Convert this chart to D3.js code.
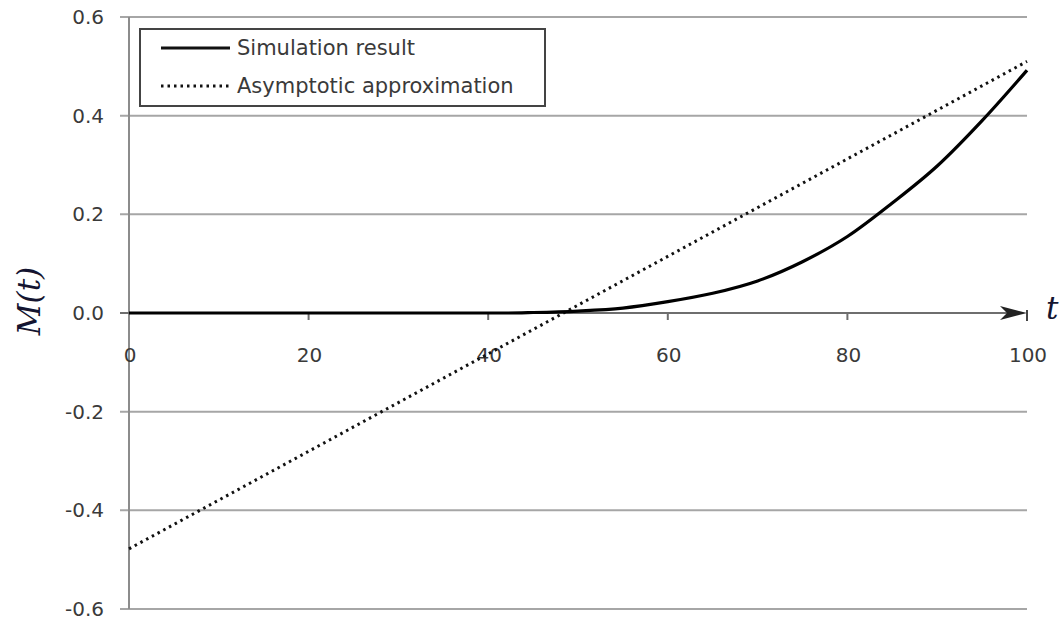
<!DOCTYPE html>
<html lang="en">
<head>
    <meta charset="utf-8">
    <title>M(t)</title>
    <script src="https://d3js.org/d3.v7.min.js"></script>
    <style>
        body { margin: 0; background: #fff; }
        .ticklbl { font-family: "DejaVu Sans", Verdana, sans-serif; font-size: 20px; fill: #3a3a3a; }
        .legtxt { font-family: "DejaVu Sans", Verdana, sans-serif; font-size: 21px; fill: #3a3a3a; }
        .math { font-family: "DejaVu Serif", serif; font-style: italic; font-size: 31px; fill: #141430; }
    </style>
</head>
<body>
<div id="chart"></div>
<script>
    const w = 1063, h = 621;

    // data
    const simT = [0, 5, 10, 15, 20, 25, 30, 35, 40, 42, 45, 50, 55, 60, 65, 70, 75, 80, 85, 90, 95, 100];
    const simM = [0, 0, 0, 0, 0, 0, 0, 0, 0, 0, 0.001, 0.004, 0.01, 0.023, 0.04, 0.065, 0.104, 0.155, 0.223, 0.298, 0.39, 0.492];
    const asymT = [0, 100];
    const asymM = [-0.478, 0.51];
    const yTicks = [-0.6, -0.4, -0.2, 0.0, 0.2, 0.4, 0.6];
    const xTicks = [0, 20, 40, 60, 80, 100];
    const seriesNames = ["Simulation result", "Asymptotic approximation"];

    const svg = d3.select("#chart").append("svg").attr("width", w).attr("height", h);

    const x = d3.scaleLinear().domain([0, 100]).range([129, 1027]);
    const y = d3.scaleLinear().domain([-0.6, 0.6]).range([609, 17]);

    // gridlines + y ticks
    svg.append("g").selectAll("line").data(yTicks).enter().append("line")
        .attr("x1", 120).attr("x2", x(100))
        .attr("y1", d => y(d)).attr("y2", d => y(d))
        .attr("stroke", d => d === 0 ? "none" : "#a6a6a6").attr("stroke-width", 2);

    svg.append("line")
        .attr("x1", x(0)).attr("x2", x(0)).attr("y1", y(0.6)).attr("y2", y(-0.6))
        .attr("stroke", "#8c8c8c").attr("stroke-width", 2);

    svg.append("g").selectAll("text").data(yTicks).enter().append("text")
        .attr("class", "ticklbl")
        .attr("x", 104).attr("y", d => y(d)).attr("dy", "0.35em")
        .attr("text-anchor", "end")
        .text(d => d3.format(".1f")(d).replace("\u2212", "-"));

    // x axis with arrow
    svg.append("line")
        .attr("x1", 120).attr("x2", x(100) - 8).attr("y1", y(0)).attr("y2", y(0))
        .attr("stroke", "#6e6e6e").attr("stroke-width", 2);
    svg.append("g").selectAll("line").data(xTicks.slice(1, 5)).enter().append("line")
        .attr("x1", d => x(d)).attr("x2", d => x(d))
        .attr("y1", y(0)).attr("y2", y(0) + 7)
        .attr("stroke", "#6e6e6e").attr("stroke-width", 2);
    const ax = x(100), ay = y(0);
    svg.append("path")
        .attr("d", `M${ax},${ay} L${ax - 27},${ay - 7} L${ax - 20},${ay} L${ax - 27},${ay + 7} Z`)
        .attr("fill", "#222");
    svg.append("line")
        .attr("x1", ax).attr("x2", ax).attr("y1", ay - 3).attr("y2", ay + 8)
        .attr("stroke", "#444").attr("stroke-width", 2);

    svg.append("g").selectAll("text").data(xTicks).enter().append("text")
        .attr("class", "ticklbl")
        .attr("x", d => x(d) + 1).attr("y", 355).attr("dy", "0.35em")
        .attr("text-anchor", "middle")
        .text(d => d);

    // series
    const line = d3.line().x(d => x(d[0])).y(d => y(d[1]));
    svg.append("path")
        .datum(asymT.map((t, i) => [t, asymM[i]]))
        .attr("d", line).attr("fill", "none")
        .attr("stroke", "#111").attr("stroke-width", 3).attr("stroke-dasharray", "2.5,4");
    svg.append("path")
        .datum(simT.map((t, i) => [t, simM[i]]))
        .attr("d", d3.line().curve(d3.curveMonotoneX).x(d => x(d[0])).y(d => y(d[1])))
        .attr("fill", "none").attr("stroke", "#000").attr("stroke-width", 3.2);

    // legend
    const leg = svg.append("g");
    leg.append("rect").attr("x", 140).attr("y", 29).attr("width", 405).attr("height", 77)
        .attr("fill", "#fff").attr("stroke", "#444").attr("stroke-width", 2);
    leg.selectAll("line").data(seriesNames).enter().append("line")
        .attr("x1", 161).attr("x2", 230)
        .attr("y1", (d, i) => 48 + i * 38).attr("y2", (d, i) => 48 + i * 38)
        .attr("stroke", "#111")
        .attr("stroke-width", (d, i) => i === 0 ? 3.2 : 3)
        .attr("stroke-dasharray", (d, i) => i === 0 ? null : "2.5,4");
    leg.selectAll("text").data(seriesNames).enter().append("text")
        .attr("class", "legtxt")
        .attr("x", 237).attr("y", (d, i) => 48 + i * 38).attr("dy", "0.35em")
        .text(d => d);

    // axis titles
    svg.append("text").attr("class", "math")
        .attr("transform", `translate(40,${y(0) - 12}) rotate(-90)`)
        .attr("text-anchor", "middle")
        .text("M(t)");
    svg.append("text").attr("class", "math")
        .attr("x", 1046).attr("y", y(0)).attr("dy", "0.2em")
        .text("t");
</script>
</body>
</html>
